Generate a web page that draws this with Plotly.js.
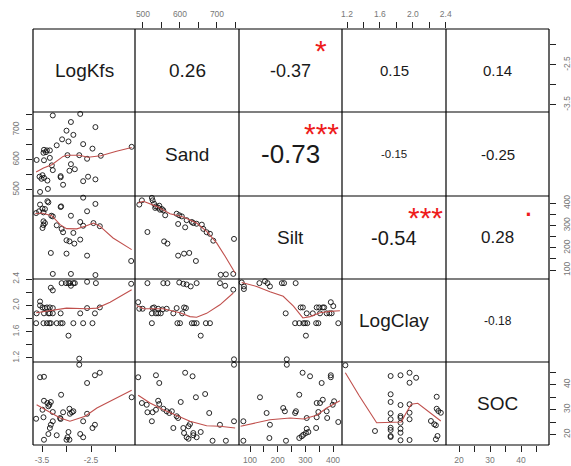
<!DOCTYPE html>
<html><head><meta charset="utf-8">
<script src="https://cdn.plot.ly/plotly-3.0.1.min.js"></script>
<style>html,body{margin:0;padding:0;background:#fff}#chart{width:571px;height:466px}</style>
</head><body><div id="chart"></div>
<script>
// ---------------- DATA ----------------
const varNames = ['LogKfs', 'Sand', 'Silt', 'LogClay', 'SOC'];

// correlations (upper triangle): row variable, column variable, r, significance
const corrRow = [0, 0, 0, 0, 1, 1, 1, 2, 2, 3];
const corrCol = [1, 2, 3, 4, 2, 3, 4, 3, 4, 4];
const corrText = ['0.26', '-0.37', '0.15', '0.14', '-0.73', '-0.15', '-0.25', '-0.54', '0.28', '-0.18'];
const corrStars = ['', '*', '', '', '***', '', '', '***', '.', ''];

// tick values / labels for each variable
const tickVals = [[-3.5, -3, -2.5, -2], [500, 550, 600, 650, 700, 750], [100, 150, 200, 250, 300, 350, 400], [1.2, 1.4, 1.6, 1.8, 2.0, 2.2, 2.4], [20, 25, 30, 35, 40, 45]];
const tickText = [['-3.5', '', '-2.5', ''], ['500', '', '600', '', '700', ''], ['100', '', '200', '', '300', '', '400'], ['1.2', '', '1.6', '', '2.0', '', '2.4'], ['20', '', '30', '', '40', '']];

// LogKfs (x) vs Sand (y)
const kfsSand_x = [-3.28,-2.72,-2.91,-2.41,-3.00,-2.86,-3.09,-2.96,-3.20,-2.66,-2.47,-3.46,-3.40,-3.34,-3.47,-3.42,-1.67,-3.34,-3.61,-3.46,-2.58,-2.74,-2.98,-2.30,-2.91,-3.30,-3.28,-2.94,-2.83,-3.55,-3.49,-3.46,-3.39,-3.51,-3.12,-3.12,-2.56,-2.66,-2.41,-3.07,-3.38,-3.54];
const kfsSand_y = [748,753,726,709,697,683,668,661,648,652,637,633,631,631,623,625,643,606,599,598,603,615,615,613,585,581,565,563,568,543,548,539,530,536,545,541,543,528,534,516,502,492];
const kfsSand_fx = [-3.62,-3.47,-3.30,-3.07,-2.98,-2.74,-2.56,-2.30,-1.98,-1.67];
const kfsSand_fy = [559,572,583,611,615,615,608,613,628,641];

// LogKfs (x) vs Silt (y)
const kfsSilt_x = [-3.39,-3.37,-2.66,-3.54,-3.11,-3.12,-2.41,-3.49,-3.44,-3.62,-3.47,-3.56,-3.31,-3.28,-2.58,-2.91,-3.47,-3.44,-3.47,-3.49,-3.20,-2.72,-2.66,-2.45,-2.32,-3.10,-3.07,-2.86,-3.00,-2.94,-2.72,-2.84,-3.32,-3.00,-2.58,-1.68,-3.28,-2.91,-2.41];
const kfsSilt_y = [409,404,425,394,386,383,397,376,374,356,359,364,344,341,364,344,319,311,302,289,301,316,299,311,297,285,270,267,234,229,237,219,177,174,165,141,83,83,78];
const kfsSilt_fx = [-3.64,-3.51,-3.30,-3.13,-3.00,-2.79,-2.62,-2.45,-2.32,-2.05,-1.67];
const kfsSilt_fy = [353,356,344,304,286,285,297,311,297,244,192];

// Sand (x) vs Silt (y)
const sandSilt_x = [490,497,524,526,530,535,541,546,551,533,544,555,560,591,598,605,595,618,632,636,645,659,614,663,672,681,690,512,557,566,595,611,625,643,746,710,724,744];
const sandSilt_y = [394,413,424,413,398,386,380,371,374,379,389,368,346,353,346,341,307,324,316,311,308,304,292,285,270,263,232,271,229,219,165,174,177,141,240,79,81,83];
const sandSilt_fx = [487,501,537,573,609,645,672,699,722,749];
const sandSilt_fy = [401,409,386,353,338,311,274,222,162,87];

// LogKfs (x) vs LogClay (y)
const kfsClay_x = [-3.54,-3.54,-3.49,-3.44,-3.40,-3.34,-3.28,-3.61,-3.46,-3.37,-3.34,-3.28,-3.12,-2.72,-2.42,-2.58,-2.32,-3.62,-3.47,-3.40,-3.35,-3.32,-3.20,-3.12,-3.08,-2.86,-2.66,-2.47,-2.96,-3.32,-3.28,-3.10,-3.01,-2.96,-2.93,-2.91,-2.86,-2.83,-2.58,-2.40,-1.68,-2.74];
const kfsClay_y = [2.06,2.00,1.97,1.96,1.97,1.97,1.96,1.88,1.88,1.88,1.88,1.88,1.88,1.88,1.88,1.96,1.97,1.73,1.73,1.73,1.73,1.73,1.73,1.73,1.73,1.73,1.73,1.73,1.54,2.27,2.23,2.34,2.34,2.34,2.34,2.30,2.34,2.34,2.36,2.34,2.33,1.19];
const kfsClay_fx = [-3.62,-3.44,-3.20,-3.00,-2.59,-2.38,-2.11,-1.67];
const kfsClay_fy = [1.89,1.91,1.94,1.96,1.95,1.96,2.05,2.24];

// Sand (x) vs LogClay (y)
const sandClay_x = [512,555,566,598,609,618,629,645,708,722,744,487,490,499,526,530,541,553,564,591,611,616,524,535,541,548,582,606,524,593,600,632,638,645,670,681,656,746];
const sandClay_y = [2.34,2.34,2.34,2.35,2.33,2.32,2.29,2.34,2.34,2.30,2.24,2.05,1.95,1.95,1.96,1.97,1.95,1.94,1.95,1.96,1.97,1.96,1.88,1.88,1.88,1.88,1.88,1.88,1.73,1.73,1.73,1.73,1.73,1.73,1.73,1.73,1.54,1.18];
const sandClay_fx = [483,501,555,600,627,645,672,708,744];
const sandClay_fy = [2.00,1.95,1.95,1.89,1.83,1.82,1.88,2.01,2.19];

// Silt (x) vs LogClay (y)
const siltClay_x = [70,78,78,134,154,163,172,215,223,265,283,291,341,350,363,368,392,401,229,305,327,353,377,387,395,263,278,293,299,307,339,347,419,302,233];
const siltClay_y = [2.35,2.29,2.25,2.34,2.37,2.34,2.29,2.34,2.34,2.34,1.97,1.97,1.97,1.97,1.97,1.97,2.05,1.99,1.88,1.88,1.88,1.88,1.88,1.88,1.88,1.73,1.73,1.73,1.73,1.73,1.73,1.73,1.73,1.54,1.18];
const siltClay_fx = [70,124,172,220,257,291,317,353,389,425];
const siltClay_fy = [2.35,2.29,2.21,2.14,1.99,1.81,1.83,1.89,1.91,1.92];

// LogKfs (x) vs SOC (y)
const kfsSoc_x = [-2.74,-3.54,-3.46,-2.58,-2.42,-2.32,-3.11,-3.46,-3.39,-3.35,-3.37,-3.32,-3.49,-3.28,-3.07,-2.94,-2.89,-2.86,-2.93,-2.58,-3.62,-3.47,-3.13,-3.12,-3.28,-3.32,-3.34,-2.66,-2.42,-2.47,-3.37,-3.20,-2.96,-2.98,-2.94,-3.00,-2.72,-2.66,-3.46,-1.67];
const kfsSoc_y = [47.9,42.9,43.1,40.6,43.7,44.7,35.9,33.5,32.6,31.9,31.3,33.0,29.9,29.0,28.9,30.3,28.9,29.3,28.3,28.3,26.3,26.9,26.6,26.2,25.3,23.9,22.6,25.3,23.9,22.6,20.2,19.7,21.0,18.9,17.9,17.9,20.2,18.9,17.9,34.9];
const kfsSoc_fx = [-3.61,-3.40,-3.13,-2.93,-2.62,-2.38,-2.05,-1.67];
const kfsSoc_fy = [31.9,29.5,26.6,25.3,27.3,30.6,33.9,37.7];

// Sand (x) vs SOC (y)
const sandSoc_x = [746,487,535,544,614,634,668,643,602,497,510,541,544,512,526,535,555,564,571,578,591,595,524,679,627,582,609,623,611,618,623,636,645,656,636,688,724,708,746];
const sandSoc_y = [47.9,42.9,43.7,40.6,44.7,43.3,36.2,34.9,33.0,32.6,31.9,33.5,32.2,28.9,28.9,29.9,30.3,29.3,28.6,29.3,27.3,26.6,25.3,28.6,24.2,22.6,22.6,23.3,20.6,18.9,18.3,19.7,18.9,21.0,20.6,17.5,17.5,23.9,25.3];
const sandSoc_fx = [487,519,555,591,627,672,708,749];
const sandSoc_fy = [35.7,32.6,29.9,27.7,25.3,23.5,23.3,22.6];

// Silt (x) vs SOC (y)
const siltSoc_x = [233,76,76,136,160,172,170,220,226,230,263,266,278,290,317,305,278,287,293,302,305,311,339,341,347,341,353,363,359,377,379,392,392,399,404,419];
const siltSoc_y = [47.9,25.3,17.5,34.9,28.6,23.9,18.6,30.6,29.3,17.5,28.6,29.3,35.9,44.7,43.3,26.6,18.6,19.3,19.9,20.6,22.3,21.0,22.6,26.9,29.0,32.6,32.6,33.9,40.6,29.3,26.6,43.7,42.9,31.9,33.3,25.0];
const siltSoc_fx = [66,124,172,245,293,341,377,425];
const siltSoc_fy = [23.3,24.6,25.9,26.6,26.2,27.7,30.6,33.5];

// LogClay (x) vs SOC (y)
const claySoc_x = [1.18,1.73,1.85,1.96,2.04,1.96,1.73,1.73,1.85,1.96,1.73,1.73,1.73,1.73,1.73,1.73,1.85,1.85,1.85,1.85,1.85,1.85,1.96,1.96,1.96,1.54,2.29,2.29,2.31,2.34,2.22,2.26,2.28,2.30,2.28];
const claySoc_y = [47.7,43.4,43.7,44.7,42.7,40.7,36.1,33.0,31.8,32.1,28.5,26.1,22.7,21.8,19.4,19.0,27.4,26.7,24.7,22.3,20.7,17.7,28.7,26.1,17.8,21.4,35.1,30.3,29.4,28.7,25.4,24.1,23.7,19.4,18.1];
const claySoc_fx = [1.18,1.35,1.56,1.70,1.86,1.92,1.98,2.06,2.18,2.34];
const claySoc_fy = [44.7,35.4,24.7,24.7,25.0,28.7,32.1,32.5,29.4,25.4];

// ---------------- LAYOUT / STYLE ----------------
const W = 571, H = 466;
const colPx = [33, 135, 239, 342, 446, 549];
const rowPx = [29, 112, 196, 279, 362, 445];
const axisRanges = [[-3.684, -1.602], [478.4, 759.5], [60.2, 432.5], [1.139, 2.403], [15.8, 49.0]];
const xSides = ['bottom', 'top', 'bottom', 'top', 'bottom'];
const ySides = ['right', 'left', 'right', 'left', 'right'];
const corrFontSize = [19, 18, 15, 15, 26, 11.5, 15, 20, 17, 12];
const FONT = 'Liberation Sans, Arial, sans-serif';

const axName = i => (i === 0 ? '' : String(i + 1));
const xdom = c => [colPx[c] / W, colPx[c + 1] / W];
const ydom = r => [1 - rowPx[r + 1] / H, 1 - rowPx[r] / H];

const panels = [
  {r: 1, c: 0, x: kfsSand_x, y: kfsSand_y, fx: kfsSand_fx, fy: kfsSand_fy},
  {r: 2, c: 0, x: kfsSilt_x, y: kfsSilt_y, fx: kfsSilt_fx, fy: kfsSilt_fy},
  {r: 2, c: 1, x: sandSilt_x, y: sandSilt_y, fx: sandSilt_fx, fy: sandSilt_fy},
  {r: 3, c: 0, x: kfsClay_x, y: kfsClay_y, fx: kfsClay_fx, fy: kfsClay_fy},
  {r: 3, c: 1, x: sandClay_x, y: sandClay_y, fx: sandClay_fx, fy: sandClay_fy},
  {r: 3, c: 2, x: siltClay_x, y: siltClay_y, fx: siltClay_fx, fy: siltClay_fy},
  {r: 4, c: 0, x: kfsSoc_x, y: kfsSoc_y, fx: kfsSoc_fx, fy: kfsSoc_fy},
  {r: 4, c: 1, x: sandSoc_x, y: sandSoc_y, fx: sandSoc_fx, fy: sandSoc_fy},
  {r: 4, c: 2, x: siltSoc_x, y: siltSoc_y, fx: siltSoc_fx, fy: siltSoc_fy},
  {r: 4, c: 3, x: claySoc_x, y: claySoc_y, fx: claySoc_fx, fy: claySoc_fy}
];

const traces = [];
panels.forEach(p => {
  traces.push({
    type: 'scatter', mode: 'markers', x: p.x, y: p.y,
    xaxis: 'x' + axName(p.c), yaxis: 'y' + axName(p.r),
    marker: {symbol: 'circle-open', size: 5, color: '#111', line: {width: 0.9}},
    cliponaxis: false, showlegend: false, hoverinfo: 'skip'
  });
  traces.push({
    type: 'scatter', mode: 'lines', x: p.fx, y: p.fy,
    xaxis: 'x' + axName(p.c), yaxis: 'y' + axName(p.r),
    line: {color: '#c0504d', width: 1.1},
    cliponaxis: false, showlegend: false, hoverinfo: 'skip'
  });
});
// empty traces so every axis pair used for tick placement exists
[[1, 0], [3, 0], [4, 0], [4, 2], [4, 4]].forEach(([c, r]) => {
  traces.push({type: 'scatter', mode: 'markers', x: [], y: [], xaxis: 'x' + axName(c), yaxis: 'y' + axName(r), showlegend: false, hoverinfo: 'skip'});
});

const layout = {
  width: W, height: H,
  margin: {l: 0, r: 0, t: 0, b: 0},
  paper_bgcolor: '#fff', plot_bgcolor: 'rgba(0,0,0,0)',
  showlegend: false,
  shapes: [], annotations: []
};

const axisCommon = {
  ticks: 'outside', ticklen: 6, tickwidth: 1, tickcolor: '#222',
  showgrid: false, zeroline: false, showline: false, fixedrange: true,
  tickfont: {family: FONT, size: 8.5, color: '#777'}
};

for (let i = 0; i < 5; i++) {
  layout['xaxis' + axName(i)] = Object.assign({}, axisCommon, {
    domain: xdom(i), range: axisRanges[i],
    tickmode: 'array', tickvals: tickVals[i], ticktext: tickText[i],
    side: xSides[i], anchor: xSides[i] === 'bottom' ? 'y5' : 'y',
    ticklabelstandoff: xSides[i] === 'bottom' ? 1 : 2
  });
  layout['yaxis' + axName(i)] = Object.assign({}, axisCommon, {
    domain: ydom(i), range: axisRanges[i],
    tickmode: 'array', tickvals: tickVals[i], ticktext: tickText[i],
    side: ySides[i], anchor: ySides[i] === 'right' ? 'x5' : 'x',
    tickangle: -90, ticklabelstandoff: 4
  });
}

// grid lines (cell borders)
colPx.forEach(px => layout.shapes.push({type: 'line', xref: 'paper', yref: 'paper',
  x0: px / W, x1: px / W, y0: 1 - rowPx[5] / H, y1: 1 - rowPx[0] / H, line: {color: '#000', width: 1.2}}));
rowPx.forEach(py => layout.shapes.push({type: 'line', xref: 'paper', yref: 'paper',
  x0: colPx[0] / W, x1: colPx[5] / W, y0: 1 - py / H, y1: 1 - py / H, line: {color: '#000', width: 1.2}}));

const cellCx = c => (colPx[c] + colPx[c + 1]) / 2 / W;
const cellCy = r => 1 - (rowPx[r] + rowPx[r + 1]) / 2 / H;

// diagonal variable names
varNames.forEach((n, i) => layout.annotations.push({
  xref: 'paper', yref: 'paper', x: cellCx(i), y: cellCy(i), text: n, showarrow: false,
  font: {family: FONT, size: 19, color: '#1a1a1a'}, xanchor: 'center', yanchor: 'middle'
}));

// correlation values and significance stars
corrText.forEach((t, k) => {
  const r = corrRow[k], c = corrCol[k];
  layout.annotations.push({
    xref: 'paper', yref: 'paper', x: cellCx(c), y: cellCy(r), text: t, showarrow: false,
    font: {family: FONT, size: corrFontSize[k], color: '#1a1a1a'}, xanchor: 'center', yanchor: 'middle'
  });
  if (corrStars[k]) {
    const sx = (colPx[c] + 0.8 * (colPx[c + 1] - colPx[c])) / W;
    const sy = 1 - (rowPx[r + 1] - 0.8 * (rowPx[r + 1] - rowPx[r])) / H;
    const isDot = corrStars[k] === '.';
    layout.annotations.push({
      xref: 'paper', yref: 'paper', x: sx, y: sy, text: corrStars[k], showarrow: false,
      font: {family: FONT, size: isDot ? 32 : 30, color: '#ee1c1c'}, xanchor: 'center', yanchor: 'middle',
      yshift: isDot ? 8 : -5
    });
  }
});

Plotly.newPlot('chart', traces, layout, {displayModeBar: false, staticPlot: true});
</script>
</body></html>
